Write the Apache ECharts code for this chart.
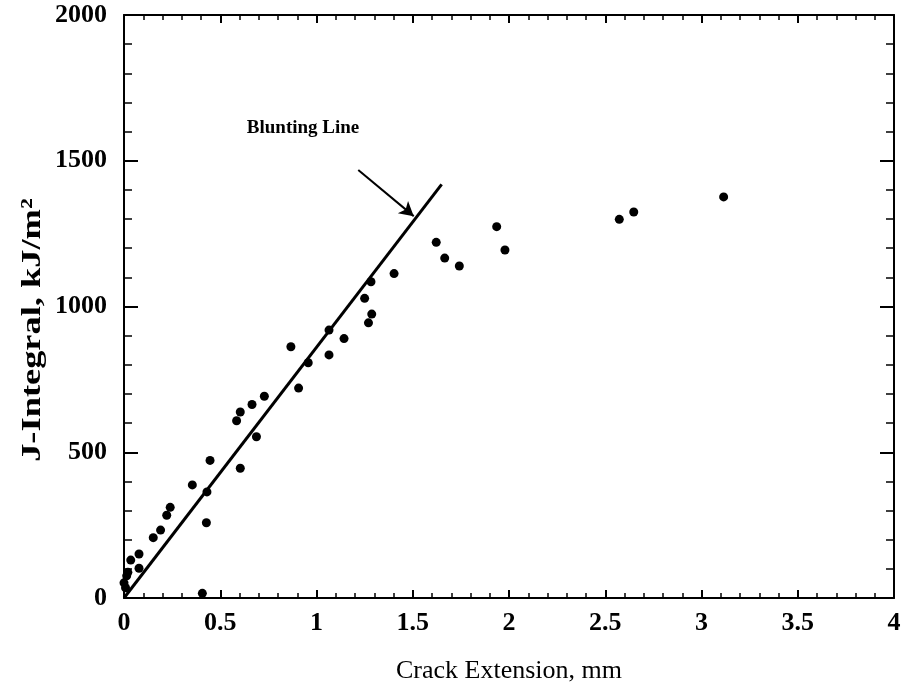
<!DOCTYPE html>
<html>
<head>
<meta charset="utf-8">
<script src="https://cdn.jsdelivr.net/npm/echarts@6/dist/echarts.min.js"></script>
<style>
  html, body { margin: 0; padding: 0; background: #fff; }
  #chart { width: 906px; height: 696px; }
</style>
</head>
<body>
<div id="chart"></div>
<script>
// Measured crack extension (mm) and J-integral (kJ/m^2)
const crackExt = [0.0, 0.014, 0.02, 0.008, 0.035, 0.078, 0.078, 0.152, 0.19, 0.222, 0.24,
  0.355, 0.407, 0.428, 0.431, 0.447, 0.585, 0.604, 0.604, 0.665, 0.688, 0.729,
  0.867, 0.907, 0.957, 1.065, 1.065, 1.143, 1.25, 1.27, 1.283, 1.287, 1.403,
  1.622, 1.666, 1.742, 1.936, 1.979, 2.573, 2.648, 3.115];
const jIntegral = [52, 76, 88, 35, 130, 151, 102, 207, 233, 284, 311,
  388, 16, 258, 364, 472, 608, 638, 445, 664, 553, 692,
  862, 720, 807, 919, 834, 890, 1028, 944, 1085, 974, 1113,
  1220, 1166, 1139, 1274, 1194, 1299, 1324, 1376];

// Blunting line end points
const bluntX = [0, 1.65];
const bluntY = [0, 1419];

// Annotation arrow (tail -> head) and label position
const arrowX = [1.217, 1.505];
const arrowY = [1468, 1310];
const labelPos = [0.93, 1612];

// Axis tick settings
const xTicks = { min: 0, max: 4, interval: 0.5 };
const yTicks = { min: 0, max: 2000, interval: 500 };

const font = 'Liberation Serif';
const points = crackExt.map((x, i) => [x, jIntegral[i]]);

function axisBase(kind, major, minor, labels) {
  const t = kind === 'x' ? xTicks : yTicks;
  return {
    type: 'value',
    min: t.min, max: t.max, interval: t.interval,
    axisLine: { show: true, onZero: false, lineStyle: { color: '#000', width: 2 } },
    axisTick: { show: true, inside: true, length: major, lineStyle: { color: '#000', width: 2 } },
    minorTick: { show: true, splitNumber: 5, length: minor, lineStyle: { color: '#000', width: 1.5 } },
    splitLine: { show: false },
    minorSplitLine: { show: false },
    axisLabel: labels ? {
      show: true, color: '#000', fontFamily: font, fontWeight: 'bold', fontSize: 26,
      margin: kind === 'x' ? 12 : 17,
      formatter: v => String(v)
    } : { show: false }
  };
}

const chart = echarts.init(document.getElementById('chart'), null, { renderer: 'canvas' });

const xBottom = Object.assign(axisBase('x', 8, 5, true), {
  position: 'bottom',
  name: 'Crack Extension, mm', nameLocation: 'middle', nameGap: 60,
  nameTextStyle: { color: '#000', fontFamily: font, fontSize: 26 }
});
const xTop = Object.assign(axisBase('x', 8, 5, false), { position: 'top' });
const yLeft = axisBase('y', 14, 8, true);
yLeft.position = 'left';
const yRight = Object.assign(axisBase('y', 14, 8, false), { position: 'right' });

chart.setOption({
  backgroundColor: '#fff',
  animation: false,
  grid: { left: 124, right: 12, top: 15, bottom: 98, containLabel: false },
  xAxis: [xBottom, xTop],
  yAxis: [yLeft, yRight],
  // Vertical axis title, set in a tall narrow face
  graphic: [{
    type: 'text',
    x: 33, y: 330,
    rotation: Math.PI / 2,
    scaleX: 1.3,
    style: {
      text: 'J-Integral, kJ/m²',
      x: 0, y: 0,
      align: 'center', verticalAlign: 'middle',
      font: 'bold 28px "Liberation Serif"',
      fill: '#000'
    }
  }],
  series: [
    {
      type: 'scatter',
      data: points,
      symbol: 'circle',
      symbolSize: 9,
      itemStyle: { color: '#000', opacity: 1 },
      z: 3
    },
    {
      type: 'line',
      data: bluntX.map((x, i) => [x, bluntY[i]]),
      showSymbol: false,
      symbol: 'none',
      lineStyle: { color: '#000', width: 3 },
      markLine: {
        silent: true,
        symbol: ['none', 'arrow'],
        symbolSize: [12, 14],
        label: { show: false },
        lineStyle: { color: '#000', width: 2, type: 'solid' },
        data: [[
          { coord: [arrowX[0], arrowY[0]] },
          { coord: [arrowX[1], arrowY[1]] }
        ]]
      }
    },
    {
      type: 'scatter',
      data: [labelPos],
      symbolSize: 0,
      silent: true,
      itemStyle: { opacity: 1 },
      label: {
        show: true, position: 'inside', formatter: 'Blunting Line',
        color: '#000', fontFamily: font, fontWeight: 'bold', fontSize: 19
      }
    }
  ]
});
</script>
</body>
</html>
